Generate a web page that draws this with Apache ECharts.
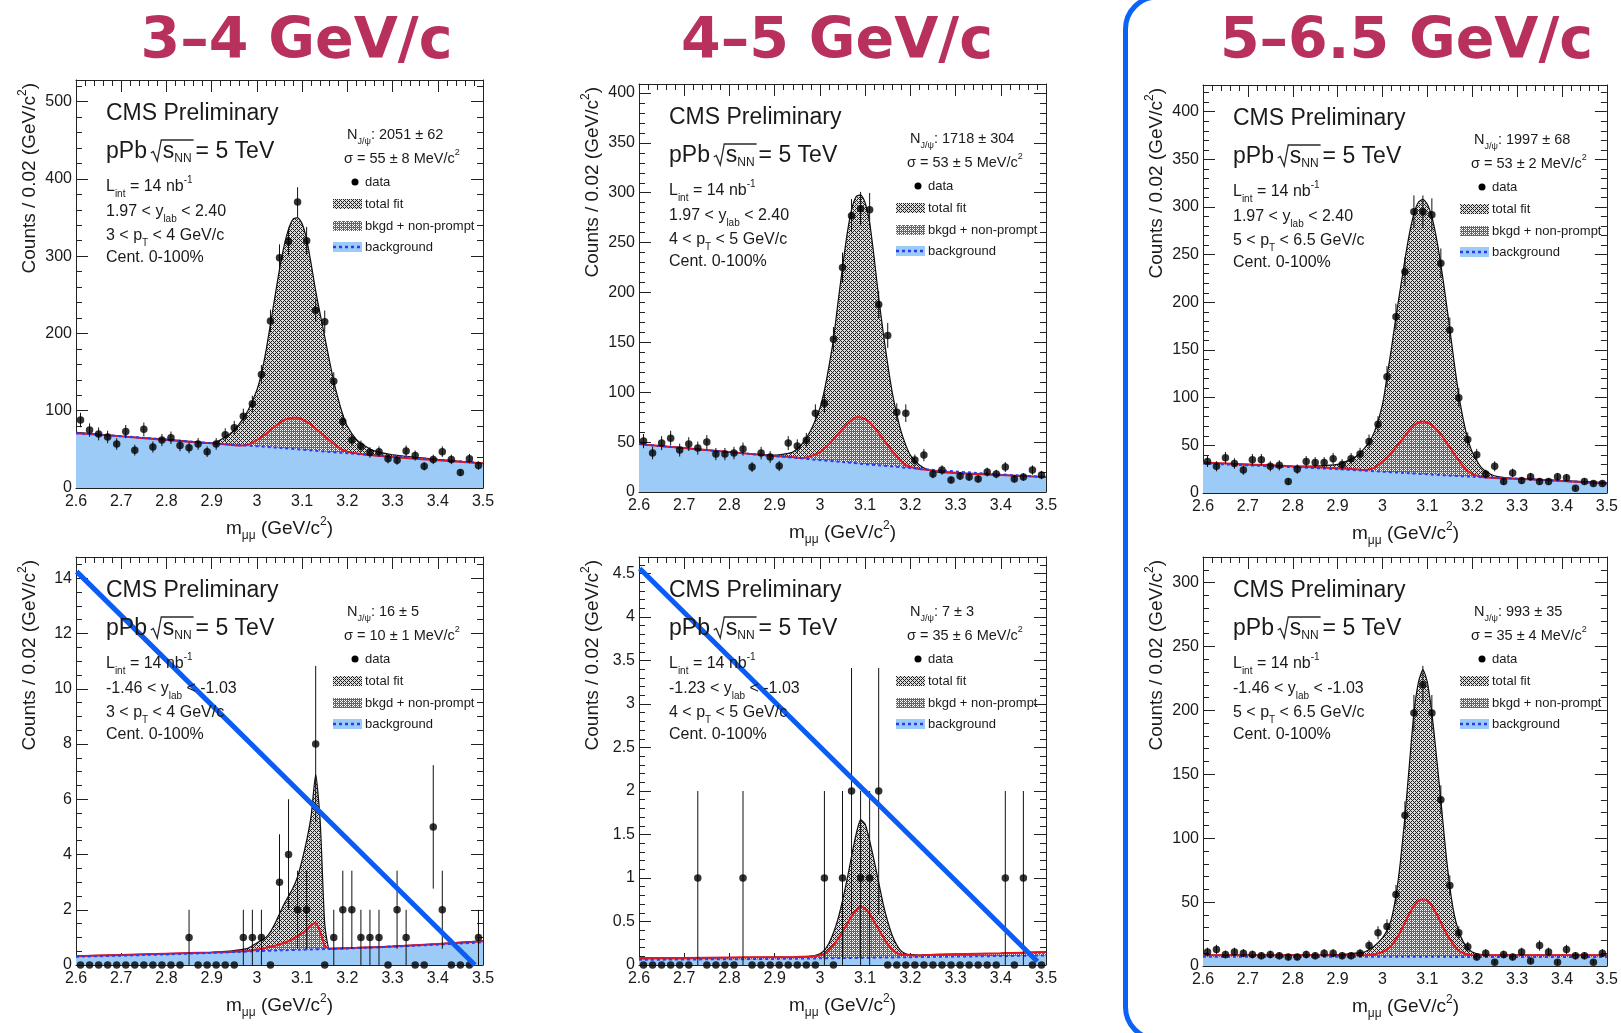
<!DOCTYPE html>
<html><head><meta charset="utf-8">
<script src="https://cdn.jsdelivr.net/npm/echarts@6/dist/echarts.min.js"></script>
<style>html,body{margin:0;padding:0;background:#fff}#c{width:1621px;height:1033px}</style>
</head><body><div id="c"></div>
<script>
// ---------------- DATA ----------------
const massBins = [2.61,2.63,2.65,2.67,2.69,2.71,2.73,2.75,2.77,2.79,2.81,2.83,2.85,2.87,2.89,2.91,2.93,2.95,2.97,2.99,
  3.01,3.03,3.05,3.07,3.09,3.11,3.13,3.15,3.17,3.19,3.21,3.23,3.25,3.27,3.29,3.31,3.33,3.35,3.37,3.39,3.41,3.43,3.45,3.47,3.49];

// counts per 0.02 GeV/c^2 bin
const counts1 = [88,75,70,66,57,73,49,76,53,62,65,55,52,57,47,57,69,78,93,109,147,216,298,319,370,320,230,215,138,86,62,54,46,47,38,36,48,42,28,37,47,37,20,38,29];
const counts2 = [51,39,49,54,42,48,44,50,38,38,39,43,25,39,35,26,49,46,52,79,89,153,225,277,284,283,188,157,80,79,32,37,18,22,12,16,15,13,20,18,25,13,15,22,17];
const counts3 = [33,28,37,31,24,35,35,28,29,12,25,33,32,32,36,30,36,41,54,72,122,185,232,295,295,292,241,171,100,56,40,20,28,12,21,13,17,12,12,17,16,5,12,10,10];
const counts4 = [0,0,0,0,0,0,0,0,0,0,0,0,1,0,0,0,0,0,1,1,1,0,3,4,2,2,8,0,1,2,2,1,1,1,0,2,1,0,0,5,2,0,0,0,1];
const counts5 = [0,0,0,0,0,0,1,0,0,0,0,1,0,0,0,0,0,0,0,0,1,0,1,2,1,1,2,0,0,0,0,0,0,0,0,0,0,0,0,0,1,0,1,0,0];
const counts6 = [11,13,9,11,10,9,8,9,8,7,7,9,8,10,10,8,8,10,16,26,31,56,118,198,220,198,130,63,26,15,7,10,3,9,7,11,4,16,11,3,13,8,8,3,10];

// fit curves, read at these masses
const fitX = [2.6,2.7,2.8,2.9,2.94,2.96,2.98,3.00,3.01,3.02,3.03,3.04,3.05,3.06,3.07,3.08,3.09,3.10,3.11,3.12,3.13,3.14,3.15,3.16,3.17,3.18,3.19,3.20,3.22,3.24,3.26,3.3,3.4,3.5];
const total1 = [72,67,63,58,70,82,100,127,148,177,212,248,283,313,335,348,350,342,322,290,255,225,196,166,138,115,95,80,63,54,48,43,37,32];
const total2 = [48,44,40,37,40,48,62,84,102,126,153,190,225,258,283,296,298,290,270,235,195,160,128,100,78,60,47,37,27,22,20,19,17,15];
const total3 = [32,30,28,30,38,47,62,93,122,152,185,215,245,272,293,305,308,303,290,268,240,207,172,136,103,77,57,43,27,20,17,15,13,11];
const total4 = [0.33,0.37,0.41,0.46,0.5,0.55,0.6,0.8,0.9,1.0,1.2,1.5,1.85,2.2,2.5,2.8,3.2,3.8,4.5,5.4,6.9,5.2,1.5,0.6,0.6,0.61,0.61,0.62,0.63,0.64,0.65,0.68,0.77,0.87];
const total5 = [0.08,0.08,0.085,0.09,0.09,0.095,0.1,0.13,0.17,0.25,0.37,0.53,0.74,0.98,1.25,1.5,1.67,1.62,1.43,1.2,0.95,0.7,0.5,0.34,0.23,0.16,0.13,0.12,0.115,0.12,0.12,0.125,0.135,0.15];
const total6 = [8.5,8.5,8.5,8.7,10,11,15,22,28,37,55,82,117,158,198,222,232,222,198,165,130,93,62,40,27,19,14,11,9,8.6,8.5,8.5,8.5,8.5];

const nonPrompt1 = [71,67,62,58,56,55,56,62,66,70,75,80,84,88,90,91,91,89,86,82,77,72,67,62,57,53,49,47,45,43,42,40,36,32];
const nonPrompt2 = [48,44,40,36,35,34,36,40,44,48,53,58,63,68,72,75,75,73,70,65,59,53,47,41,36,31,27,25,23,22,21,19,17,15];
const nonPrompt3 = [32,30,28,26,25,24,26,33,37,42,48,54,60,66,71,74,75,74,71,67,61,55,48,41,34,28,23,20,17,16,15.5,15,12.5,10];
const nonPrompt4 = [0.32,0.36,0.41,0.45,0.47,0.49,0.51,0.56,0.59,0.62,0.66,0.7,0.75,0.8,0.87,0.95,1.05,1.15,1.28,1.45,1.52,1.2,0.7,0.59,0.59,0.6,0.6,0.61,0.62,0.63,0.64,0.67,0.76,0.86];
const nonPrompt5 = [0.08,0.08,0.085,0.09,0.09,0.095,0.1,0.11,0.13,0.17,0.23,0.3,0.38,0.47,0.56,0.63,0.67,0.65,0.59,0.5,0.41,0.32,0.24,0.18,0.14,0.12,0.115,0.11,0.11,0.115,0.12,0.125,0.135,0.15];
const nonPrompt6 = [8.5,8.5,8.5,8.5,8.5,8.5,9,11,13,16,21,27,34,41,47,51,52,51,47,41,34,27,21,16,12,10,9,8.5,8.5,8.5,8.5,8.5,8.5,8.5];

const bkgX = [2.6,2.75,2.9,3.05,3.2,3.35,3.5];
const bkg1 = [71,65,58,52,45,39,32];
const bkg2 = [48,42,36,30,24,19,15];
const bkg3 = [31,28,25,21,17,14,10];
const bkg4 = [0.3,0.36,0.44,0.53,0.6,0.7,0.82];
const bkg5 = [0.06,0.065,0.07,0.08,0.09,0.1,0.11];
const bkg6 = [7.3,7.3,7.2,7.2,7.1,7.0,7.0];

// blue strike-through lines on two panels
const strike4X = [2.6015, 3.482], strike4Y = [14.24, 0.0];
const strike5X = [2.6015, 3.481], strike5Y = [4.557, 0.04];

// axes
const xTickMin = 2.6, xTickMax = 3.5, xTickStep = 0.1;
const yMaxs = [528, 409, 428, 14.77, 4.69, 320];
const ySteps = [100, 50, 50, 2, 0.5, 50];
const yMinorSplits = [5, 5, 5, 4, 5, 5];

// texts
const binTitles = ['3–4 GeV/c', '4–5 GeV/c', '5–6.5 GeV/c'];
const yieldText = ['2051 ± 62', '1718 ± 304', '1997 ± 68', '16 ± 5', '7 ± 3', '993 ± 35'];
const widthText = ['55 ± 8', '53 ± 5', '53 ± 2', '10 ± 1', '35 ± 6', '35 ± 4'];
const rapLow = ['1.97', '1.97', '1.97', '-1.46', '-1.23', '-1.46'];
const rapHigh = ['2.40', '2.40', '2.40', '-1.03', '-1.03', '-1.03'];
const ptLow = ['3', '4', '5', '3', '4', '5'];
const ptHigh = ['4', '5', '6.5', '4', '5', '6.5'];

const countsAll = [counts1, counts2, counts3, counts4, counts5, counts6];
const totalAll = [total1, total2, total3, total4, total5, total6];
const npAll = [nonPrompt1, nonPrompt2, nonPrompt3, nonPrompt4, nonPrompt5, nonPrompt6];
const bkgAll = [bkg1, bkg2, bkg3, bkg4, bkg5, bkg6];

// ---------------- STYLE / LAYOUT ----------------
const FF = '"Liberation Sans", Arial, Helvetica, sans-serif';
const TXT = '#1a1a1a';
const grids = [
  {left: 76, top: 80, width: 407, height: 408},
  {left: 639, top: 84, width: 407, height: 408},
  {left: 1203, top: 85, width: 405, height: 408},
  {left: 76, top: 557, width: 407, height: 408},
  {left: 639, top: 557, width: 407, height: 408},
  {left: 1203, top: 557, width: 405, height: 409}
];

function tile(bg, fg, test) {
  const c = document.createElement('canvas'); c.width = 4; c.height = 4;
  const ctx = c.getContext('2d');
  ctx.fillStyle = bg; ctx.fillRect(0, 0, 4, 4);
  ctx.fillStyle = fg;
  for (let x = 0; x < 4; x++) for (let y = 0; y < 4; y++) if (test(x, y)) ctx.fillRect(x, y, 1, 1);
  return c;
}
const grayPat = {image: tile('#dcdcdc', '#1e1e1e', (x, y) => (x + y) % 4 === 0 || (x - y + 4) % 4 === 0), repeat: 'repeat'};
const redPat = {image: tile('#ff2424', '#ffffff', (x, y) => (x % 2 === 0 && y % 2 === 0) || (x === 1 && y === 1)), repeat: 'repeat'};
const BLUE_FILL = '#9ccbf7';

const mctx = document.createElement('canvas').getContext('2d');
function tw(t, size) { mctx.font = size + 'px ' + FF; return mctx.measureText(t).width; }

const xAxes = [], yAxes = [], series = [], G = [];
const tickStyle = {color: '#222', width: 1};

grids.forEach((g, i) => {
  const xCommon = {type: 'value', gridIndex: i, min: xTickMin, max: xTickMax, interval: xTickStep,
    axisLine: {show: true, onZero: false, lineStyle: tickStyle},
    axisTick: {show: true, inside: true, length: 12, lineStyle: tickStyle},
    minorTick: {show: true, splitNumber: 5, length: 6, lineStyle: tickStyle},
    splitLine: {show: false}};
  xAxes.push(Object.assign({}, xCommon, {position: 'bottom',
    axisLabel: {show: true, margin: 6, fontSize: 16, fontFamily: FF, color: TXT,
      formatter: v => String(+(+v).toFixed(2))}}));
  xAxes.push(Object.assign({}, xCommon, {position: 'top', axisLabel: {show: false}}));
  const yCommon = {type: 'value', gridIndex: i, min: 0, max: yMaxs[i], interval: ySteps[i],
    axisLine: {show: true, onZero: false, lineStyle: tickStyle},
    axisTick: {show: true, inside: true, length: 12, lineStyle: tickStyle},
    minorTick: {show: true, splitNumber: yMinorSplits[i], length: 6, lineStyle: tickStyle},
    splitLine: {show: false}};
  yAxes.push(Object.assign({}, yCommon, {position: 'left',
    axisLabel: {show: true, margin: 4, fontSize: 16, fontFamily: FF, color: TXT, showMaxLabel: false,
      formatter: v => String(+(+v).toFixed(2))}}));
  yAxes.push(Object.assign({}, yCommon, {position: 'right', axisLabel: {show: false}}));

  const xi = 2 * i, yi = 2 * i;
  const base = {xAxisIndex: xi, yAxisIndex: yi, silent: true, animation: false};
  const pts = (xs, ys) => xs.map((x, k) => [x, ys[k]]);
  const sm = 0.2;
  // areas
  series.push(Object.assign({type: 'line', data: pts(fitX, totalAll[i]), smooth: sm, showSymbol: false,
    lineStyle: {width: 0}, areaStyle: {color: grayPat, opacity: 1}, z: 2}, base));
  series.push(Object.assign({type: 'line', data: pts(fitX, npAll[i]), smooth: sm, showSymbol: false,
    lineStyle: {width: 0}, areaStyle: {color: redPat, opacity: 1}, z: 3}, base));
  series.push(Object.assign({type: 'line', data: pts(bkgX, bkgAll[i]), smooth: 0.3, showSymbol: false,
    lineStyle: {width: 0}, areaStyle: {color: BLUE_FILL, opacity: 1}, z: 4}, base));
  // curves
  series.push(Object.assign({type: 'line', data: pts(fitX, totalAll[i]), smooth: sm, showSymbol: false,
    lineStyle: {color: '#111', width: 1.2}, z: 5}, base));
  series.push(Object.assign({type: 'line', data: pts(fitX, npAll[i]), smooth: sm, showSymbol: false,
    lineStyle: {color: '#e8141c', width: 2}, z: 6}, base));
  series.push(Object.assign({type: 'line', data: pts(bkgX, bkgAll[i]), smooth: 0.3, showSymbol: false,
    lineStyle: {color: '#2a3cf2', width: 2, type: [3, 3]}, z: 7}, base));
  // error bars (sqrt N)
  series.push(Object.assign({type: 'custom', data: massBins.map((x, k) => [x, countsAll[i][k], Math.sqrt(countsAll[i][k])]),
    clip: true, z: 9,
    renderItem: function (params, api) {
      const x = api.value(0), y = api.value(1), e = api.value(2);
      if (!e) return null;
      const p1 = api.coord([x, y - e]), p2 = api.coord([x, y + e]);
      return {type: 'line', shape: {x1: p1[0], y1: p1[1], x2: p2[0], y2: p2[1]}, style: {stroke: '#111', lineWidth: 1}};
    }}, base));
  // data points
  series.push(Object.assign({type: 'scatter', data: pts(massBins, countsAll[i]), symbol: 'circle', symbolSize: 7.5,
    itemStyle: {color: '#000'}, z: 10, clip: false}, base));

  // ---------- text inside the frame ----------
  const gx = g.left, gy = g.top;
  const t = (x, y, text, rich, extra) => G.push(Object.assign({type: 'text', x: x, y: y, silent: true, z: 50,
    style: {text: text, rich: rich, align: 'left', verticalAlign: 'middle', fill: TXT, fontFamily: FF, fontSize: 16}}, extra || {}));
  const R16 = {a: {fontSize: 16, lineHeight: 24, fontFamily: FF, fill: TXT},
               sb: {fontSize: 10, lineHeight: 10, verticalAlign: 'bottom', fontFamily: FF, fill: TXT},
               sp: {fontSize: 10, lineHeight: 10, verticalAlign: 'top', fontFamily: FF, fill: TXT}};
  const R14 = {a: {fontSize: 14.5, lineHeight: 22, fontFamily: FF, fill: TXT},
               sb: {fontSize: 9, lineHeight: 9, verticalAlign: 'bottom', fontFamily: FF, fill: TXT},
               sp: {fontSize: 9, lineHeight: 9, verticalAlign: 'top', fontFamily: FF, fill: TXT}};
  t(gx + 30, gy + 34, '{a|CMS Preliminary}', {a: {fontSize: 23, fontFamily: FF, fill: TXT}});
  // pPb sqrt(sNN) = 5 TeV
  const B = 23, yc = gy + 72, x0 = gx + 30;
  const wP = tw('pPb', B), wSp = tw(' ', B), wS = tw('s', B), wN = tw('NN', 12);
  t(x0, yc, '{a|pPb}', {a: {fontSize: B, fontFamily: FF, fill: TXT}});
  const rx = x0 + wP + wSp * 0.6;
  G.push({type: 'polyline', silent: true, z: 50, shape: {points: [[rx, yc + 1], [rx + 2.5, yc - 0.5], [rx + 6.5, yc + 9], [rx + 10.5, yc - 12], [rx + 12 + wS + wN + 2, yc - 12]]},
    style: {stroke: '#2a2a2a', lineWidth: 1.3, fill: null}});
  t(rx + 12, yc, '{a|s}', {a: {fontSize: B, fontFamily: FF, fill: TXT}});
  t(rx + 12 + wS, yc + 7, '{a|NN}', {a: {fontSize: 12, fontFamily: FF, fill: TXT}});
  t(rx + 12 + wS + wN + 4, yc, '{a|= 5 TeV}', {a: {fontSize: B, fontFamily: FF, fill: TXT}});

  t(gx + 30, gy + 107, '{a|L}{sb|int}{a| = 14 nb}{sp|-1}', R16);
  t(gx + 30, gy + 132, '{a|' + rapLow[i] + ' < y}{sb|lab}{a| < ' + rapHigh[i] + '}', R16);
  t(gx + 30, gy + 156, '{a|' + ptLow[i] + ' < p}{sb|T}{a| < ' + ptHigh[i] + ' GeV/c}', R16);
  t(gx + 30, gy + 178, '{a|Cent. 0-100%}', R16);

  t(gx + 271, gy + 55, '{a|N}{sb|J/ψ}{a|: ' + yieldText[i] + '}', R14);
  t(gx + 268, gy + 79, '{a|σ = ' + widthText[i] + ' MeV/c}{sp|2}', R14);

  // legend
  const lx = gx + 257, lw = 29, ltx = gx + 289;
  const rows = [gy + 102, gy + 124, gy + 146, gy + 167];
  G.push({type: 'circle', silent: true, z: 50, shape: {cx: gx + 279, cy: rows[0], r: 3.5}, style: {fill: '#000'}});
  G.push({type: 'rect', silent: true, z: 50, shape: {x: lx, y: rows[1] - 5, width: lw, height: 10}, style: {fill: grayPat}});
  G.push({type: 'rect', silent: true, z: 50, shape: {x: lx, y: rows[2] - 5, width: lw, height: 10}, style: {fill: redPat}});
  G.push({type: 'rect', silent: true, z: 50, shape: {x: lx, y: rows[3] - 5, width: lw, height: 10}, style: {fill: BLUE_FILL}});
  G.push({type: 'line', silent: true, z: 51, shape: {x1: lx, y1: rows[3], x2: lx + lw, y2: rows[3]}, style: {stroke: '#2a3cf2', lineWidth: 2.5, lineDash: [3, 3]}});
  const RL = {a: {fontSize: 13, fontFamily: FF, fill: TXT}};
  t(ltx, rows[0], '{a|data}', RL);
  t(ltx, rows[1], '{a|total fit}', RL);
  t(ltx, rows[2], '{a|bkgd + non-prompt}', RL);
  t(ltx, rows[3], '{a|background}', RL);

  // axis titles
  const RA = {a: {fontSize: 19, lineHeight: 26, fontFamily: FF, fill: TXT},
              sb: {fontSize: 12, lineHeight: 12, verticalAlign: 'bottom', fontFamily: FF, fill: TXT},
              sp: {fontSize: 12, lineHeight: 12, verticalAlign: 'top', fontFamily: FF, fill: TXT}};
  G.push({type: 'text', silent: true, z: 50, x: gx - 46, y: gy + 3, rotation: Math.PI / 2,
    style: {text: '{a|Counts / 0.02 (GeV/c}{sp|2}{a|)}', rich: RA, align: 'right', verticalAlign: 'middle', fontFamily: FF}});
  G.push({type: 'text', silent: true, z: 50, x: gx + g.width / 2, y: gy + g.height + 41,
    style: {text: '{a|m}{sb|μμ}{a| (GeV/c}{sp|2}{a|)}', rich: RA, align: 'center', verticalAlign: 'middle', fontFamily: FF}});
});

// strike-through lines
[[3, strike4X, strike4Y], [4, strike5X, strike5Y]].forEach(([i, xs, ys]) => {
  series.push({type: 'line', xAxisIndex: 2 * i, yAxisIndex: 2 * i, data: xs.map((x, k) => [x, ys[k]]),
    showSymbol: false, silent: true, animation: false, clip: false, z: 30,
    lineStyle: {color: '#0b5cf5', width: 5, cap: 'butt'}});
});

// column titles
const titleX = [296.5, 837, 1406.5];
binTitles.forEach((s, k) => G.push({type: 'text', silent: true, z: 60, x: titleX[k], y: 43,
  style: {text: s, fontSize: 57, fontWeight: 'bold', fontFamily: '"DejaVu Sans", sans-serif', fill: '#b8305c', align: 'center', verticalAlign: 'middle'}}));

// rounded highlight box around the last column
G.push({type: 'rect', silent: true, z: 0, shape: {x: 1125.5, y: -3, width: 600, height: 1042, r: 32},
  style: {fill: null, stroke: '#0b63f6', lineWidth: 5}});

const chart = echarts.init(document.getElementById('c'), null, {renderer: 'canvas', width: 1621, height: 1033});
chart.setOption({
  animation: false,
  backgroundColor: '#fff',
  grid: grids.map(g => Object.assign({containLabel: false}, g)),
  xAxis: xAxes,
  yAxis: yAxes,
  series: series,
  graphic: {elements: G}
});
</script></body></html>
